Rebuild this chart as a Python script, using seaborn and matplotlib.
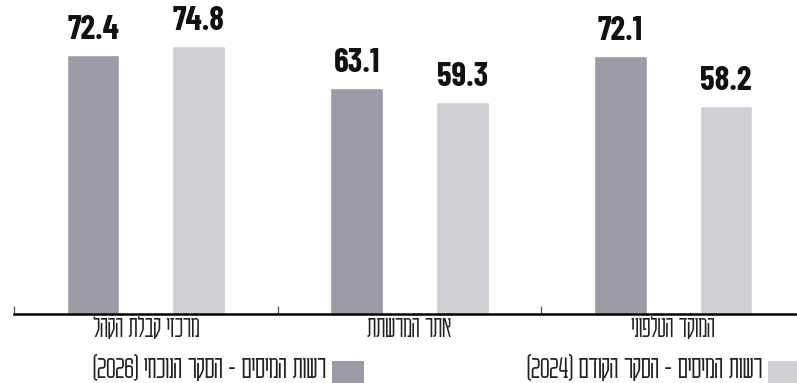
import pandas as pd
import matplotlib.pyplot as plt
import seaborn as sns
from matplotlib.patches import Rectangle

# data (logical Hebrew order)
categories = ["מרכזי קבלת הקהל", "אתר המרשתת", "המוקד הטלפוני"]
current_2026 = [72.4, 63.1, 72.1]
previous_2024 = [74.8, 59.3, 58.2]
series_names = ["רשות המיסים - הסקר הנוכחי (2026)", "רשות המיסים - הסקר הקודם  (2024)"]
colors = ["#9d9ca6", "#cfcfd4"]


def visual(text):
    """Turn logical RTL Hebrew into left-to-right drawing order (numbers in brackets kept)."""
    if "(" in text:
        head, tail = text.split("(", 1)
        return "(" + tail + " " + head.rstrip()[::-1]
    return text[::-1]


df = pd.DataFrame({
    "category": categories * 2,
    "value": current_2026 + previous_2024,
    "series": [series_names[0]] * 3 + [series_names[1]] * 3,
})

sns.set_theme(style="white")
heb_font = ["Karantina", "Noto Sans Hebrew", "DejaVu Sans"]
num_font = ["Barlow Condensed", "Oswald", "DejaVu Sans"]
plt.rcParams["font.family"] = heb_font

W, H = 797, 383
fig = plt.figure(figsize=(W / 100, H / 100), dpi=100)
ax = fig.add_axes([14 / W, (H - 314) / H, 791 / W, 314 / H])

sns.barplot(data=df, x="category", y="value", hue="series", order=categories,
            hue_order=series_names, palette=colors, width=0.8, gap=0.5,
            saturation=1, legend=False, ax=ax)

ax.set_xlim(-0.5, 2.5)
ax.set_ylim(0, 314 / 3.58)
ax.set_xlabel("")
ax.set_ylabel("")
ax.set_yticks([])
for side in ["left", "right", "top"]:
    ax.spines[side].set_visible(False)
ax.spines["bottom"].set_color("black")
ax.spines["bottom"].set_linewidth(1.8)

ax.set_xticks([0, 1, 2])
ax.set_xticklabels([visual(c) for c in categories], fontsize=22, fontweight="light",
                   color="#222222", family=heb_font)
ax.tick_params(axis="x", which="major", length=0, pad=1)
ax.set_xticks([-0.5, 0.5, 1.5], minor=True)
ax.tick_params(axis="x", which="minor", bottom=True, direction="in", length=6,
               width=0.9, color="#555555")

for cont in ax.containers:
    ax.bar_label(cont, fmt="%.1f", padding=7, fontsize=24, fontweight="bold",
                 family=num_font, color="#111111")

# legend drawn RTL style: swatch on the right of its text
legend_items = [(series_names[0], colors[0], 332), (series_names[1], colors[1], 768)]
for name, col, x0 in legend_items:
    fig.patches.append(Rectangle((x0 / W, 0), 32 / W, 22 / H, transform=fig.transFigure,
                                 facecolor=col, edgecolor="none"))
    fig.text((x0 - 6) / W, 5 / H, visual(name), ha="right", va="baseline",
             fontsize=24, fontweight="light", color="#222222", family=heb_font)

fig.savefig("out.png", dpi=100)
